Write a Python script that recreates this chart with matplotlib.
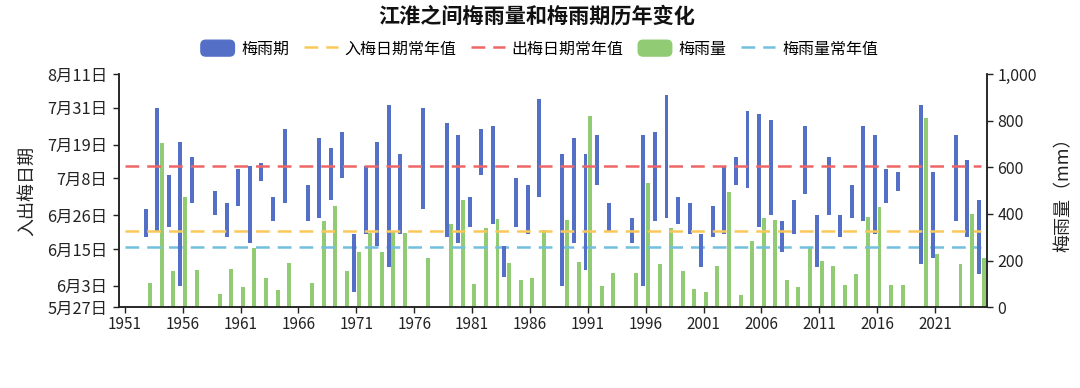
import datetime as dt
import numpy as np
import matplotlib
matplotlib.use('Agg')
import matplotlib.pyplot as plt
import matplotlib.ticker as ticker
from matplotlib.patches import Patch, FancyBboxPatch
from matplotlib.lines import Line2D
from matplotlib.legend_handler import HandlerPatch

plt.rcParams['font.family'] = ['Noto Sans CJK SC', 'DejaVu Sans']
plt.rcParams['axes.unicode_minus'] = False

# years with a meiyu season (1951, 1952, 1958, 1966, 1976, 1978, 1988, 1994, 2019, 2022 have none)
years = [1953, 1954, 1955, 1956, 1957, 1959, 1960, 1961, 1962, 1963, 1964, 1965,
         1967, 1968, 1969, 1970, 1971, 1972, 1973, 1974, 1975, 1977, 1979, 1980,
         1981, 1982, 1983, 1984, 1985, 1986, 1987, 1989, 1990, 1991, 1992, 1993,
         1995, 1996, 1997, 1998, 1999, 2000, 2001, 2002, 2003, 2004, 2005, 2006,
         2007, 2008, 2009, 2010, 2011, 2012, 2013, 2014, 2015, 2016, 2017, 2018,
         2020, 2021, 2023, 2024, 2025]
start = ['6-19', '6-21', '6-22', '6-3', '6-30', '6-26', '6-19', '6-29', '6-17', '7-7', '6-24', '6-30',
         '6-24', '6-25', '7-1', '7-8', '6-1', '6-20', '6-16', '6-9', '6-20', '6-28', '6-19', '6-17',
         '6-22', '7-9', '6-23', '6-6', '6-22', '6-20', '7-2', '6-3', '6-17', '6-8', '7-6', '6-21',
         '6-17', '6-3', '6-24', '6-25', '6-23', '6-20', '6-9', '6-19', '6-20', '7-6', '7-5', '6-22',
         '6-26', '6-14', '6-20', '7-3', '6-9', '6-26', '6-19', '6-25', '6-24', '6-20', '6-30', '7-4',
         '6-10', '6-12', '6-24', '6-19', '6-7']
end = ['6-28', '7-31', '7-9', '7-20', '7-15', '7-4', '6-30', '7-11', '7-12', '7-13', '7-2', '7-24',
       '7-6', '7-21', '7-18', '7-23', '6-20', '7-12', '7-20', '8-1', '7-16', '7-31', '7-26', '7-22',
       '7-2', '7-24', '7-25', '6-16', '7-8', '7-6', '8-3', '7-16', '7-21', '7-16', '7-22', '6-30',
       '6-25', '7-22', '7-23', '8-4', '7-2', '6-30', '6-20', '6-29', '7-12', '7-15', '7-30', '7-29',
       '7-27', '6-24', '7-1', '7-25', '6-26', '7-15', '6-26', '7-6', '7-25', '7-22', '7-11', '7-10',
       '8-1', '7-10', '7-22', '7-14', '7-1']
rain = [103, 704, 156, 472, 162, 56, 165, 89, 256, 124, 73, 190,
        103, 369, 436, 157, 239, 318, 239, 325, 320, 212, 355, 461,
        99, 342, 378, 189, 117, 126, 332, 375, 195, 818, 93, 146,
        146, 531, 186, 338, 156, 79, 66, 177, 494, 54, 285, 381,
        373, 119, 89, 256, 197, 176, 94, 142, 389, 429, 94, 94,
        811, 230, 185, 402, 212]

entry_normal = '6-21'
exit_normal = '7-12'
rain_normal = 259

date_ticks = ['5-27', '6-3', '6-15', '6-26', '7-8', '7-19', '7-31', '8-11']


def day(s):
    m, d = map(int, s.split('-'))
    return (dt.date(2001, m, d) - dt.date(2001, 5, 27)).days


def rounded(legend, orig_handle, xdescent, ydescent, width, height, fontsize):
    return FancyBboxPatch((-xdescent, -ydescent), width, height,
                          boxstyle='round,pad=0,rounding_size=3.5')


blue, green = '#5470c6', '#91cc75'
orange, red, lblue = '#fac858', '#ee6666', '#73c0de'
lw = 1.8
dash = (5.5, 3.2)

x = np.array(years)
s = np.array([day(v) for v in start])
e = np.array([day(v) for v in end])

fig = plt.figure(figsize=(10.8, 3.88), dpi=100)
ax = fig.add_axes([0.1102, 0.208, 0.8038, 0.6013])
ax2 = ax.twinx()
ax.set_zorder(ax2.get_zorder() + 1)
ax.patch.set_visible(False)

ax2.bar(x + 0.2, rain, width=0.34, color=green, zorder=2)
ax2.plot([1951, 2025], [rain_normal] * 2, color=lblue, lw=lw, dashes=dash, zorder=3)

ax.bar(x - 0.2, e - s, bottom=s, width=0.34, color=blue, zorder=2)
ax.plot([1951, 2025], [day(entry_normal)] * 2, color=orange, lw=lw, dashes=dash, zorder=3)
ax.plot([1951, 2025], [day(exit_normal)] * 2, color=red, lw=lw, dashes=dash, zorder=3)

ax.set_xlim(1950.5, 2025.5)
ax.set_ylim(0, 76)
ax2.set_ylim(0, 1000)
ax.set_xticks(np.arange(1951, 2026, 5))
ax.set_yticks([day(v) for v in date_ticks])
ax.set_yticklabels(['%d月%d日' % tuple(map(int, v.split('-'))) for v in date_ticks])
ax2.set_yticks(np.arange(0, 1001, 200))
ax2.yaxis.set_major_formatter(ticker.FuncFormatter(lambda v, p: f'{v:,.0f}'))

for a in (ax, ax2):
    a.spines['top'].set_visible(False)
    for sp in a.spines.values():
        sp.set_color('#222222')
        sp.set_linewidth(1.1)
    a.tick_params(colors='#222222', labelsize=11, length=4.5, width=1.0)
ax.tick_params(axis='y', pad=4, labelsize=11.8)
ax.tick_params(axis='x', pad=2)
ax2.tick_params(axis='y', pad=3, labelsize=11.5)

ax.set_ylabel('入出梅日期', fontsize=13, color='#222222', labelpad=8)
ax2.set_ylabel('梅雨量（mm）', fontsize=13, color='#222222', rotation=90, labelpad=13)

fig.text(0.497, 0.958, '江淮之间梅雨量和梅雨期历年变化', ha='center', va='center',
         fontsize=15.2, fontweight='bold', color='#111111')

handles = [Patch(color=blue, label='梅雨期'),
           Line2D([], [], color=orange, lw=lw, dashes=dash, label='入梅日期常年值'),
           Line2D([], [], color=red, lw=lw, dashes=dash, label='出梅日期常年值'),
           Patch(color=green, label='梅雨量'),
           Line2D([], [], color=lblue, lw=lw, dashes=dash, label='梅雨量常年值')]
fig.legend(handles=handles, loc='center', bbox_to_anchor=(0.4995, 0.874), ncol=5,
           frameon=False, fontsize=11.5, handlelength=2.1, handleheight=1.15,
           handletextpad=0.45, columnspacing=0.9,
           handler_map={Patch: HandlerPatch(patch_func=rounded)})

fig.savefig('out.png', dpi=100)
